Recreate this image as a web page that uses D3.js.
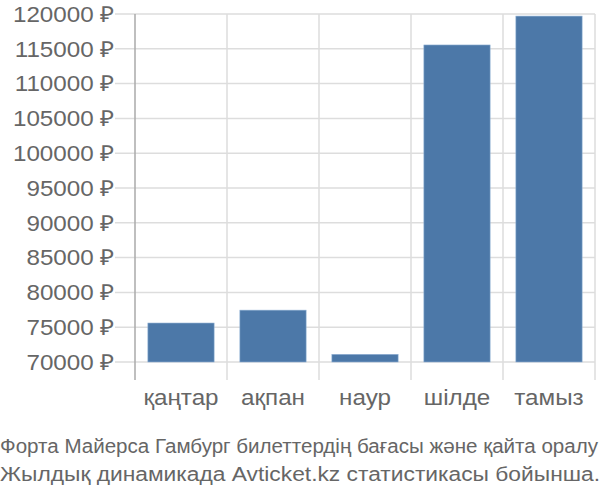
<!DOCTYPE html>
<html><head><meta charset="utf-8">
<script src="https://cdn.jsdelivr.net/npm/d3@7"></script>
<style>body{margin:0;background:#fff}svg{display:block}</style>
</head><body>
<svg id="c" width="600" height="500"></svg>
<script>
const categories = ["қаңтар","ақпан","наур","шілде","тамыз"];
const values = [75600, 77450, 71100, 115550, 119700];
const yTicks = [70000,75000,80000,85000,90000,95000,100000,105000,110000,115000,120000];
const titleLines = ["Форта Майерса Гамбург билеттердің бағасы және қайта оралу","Жылдық динамикада Avticket.kz статистикасы бойынша."];

(function(){
const svg = d3.select("#c");
const font = "'Liberation Sans', Arial, sans-serif";
const mLeft = 135, mRight = 595, mTop = 14, base = 362, axisBottom = 380;
const sx = 1.1;
const x = d3.scaleBand().domain(categories).range([mLeft, mRight]).paddingInner(0.28).paddingOuter(0.14);
const y = d3.scaleLinear().domain([70000,120000]).range([base, mTop]);

svg.append("g").selectAll("line").data(yTicks).join("line")
  .attr("x1", 115).attr("x2", mRight).attr("y1", d=>y(d)).attr("y2", d=>y(d))
  .attr("stroke", "#ddd").attr("stroke-width", 1.5);
const vlines = d3.range(categories.length+1).map(i => mLeft + i*(mRight-mLeft)/categories.length);
svg.append("g").selectAll("line").data(vlines.slice(1)).join("line")
  .attr("x1", d=>d).attr("x2", d=>d).attr("y1", mTop).attr("y2", axisBottom)
  .attr("stroke", "#ddd").attr("stroke-width", 1.5);
svg.append("line").attr("x1", mLeft).attr("x2", mLeft).attr("y1", mTop).attr("y2", axisBottom)
  .attr("stroke", "#aaa").attr("stroke-width", 1.5);

svg.append("g").selectAll("rect").data(values).join("rect")
  .attr("x", (d,i)=>x(categories[i])).attr("width", x.bandwidth())
  .attr("y", d=>y(d)).attr("height", d=>base - y(d))
  .attr("fill", "#4c78a8").attr("stroke", "#8fb0d4").attr("stroke-width", 0.6);

svg.append("g").selectAll("text").data(yTicks).join("text")
  .attr("transform", d => `translate(114,${y(d)}) scale(${sx},1)`)
  .attr("dy", "0.35em")
  .attr("text-anchor", "end").attr("font-family", font).attr("font-size", 22)
  .attr("fill", "#666").text(d => d + " ₽");

svg.append("g").selectAll("text").data(categories).join("text")
  .attr("transform", d => `translate(${x(d)+x.bandwidth()/2},405) scale(${sx},1)`)
  .attr("text-anchor", "middle").attr("font-family", font).attr("font-size", 22)
  .attr("fill", "#666").text(d=>d);

const tSizes = [19.5, 20], tLens = [598, 600];
svg.append("g").selectAll("text").data(titleLines).join("text")
  .attr("x", 0).attr("y", (d,i)=>453 + i*28)
  .attr("font-family", font).attr("font-size", (d,i)=>tSizes[i])
  .attr("textLength", (d,i)=>tLens[i]).attr("lengthAdjust", "spacingAndGlyphs")
  .attr("fill", "#666").text(d=>d);
})();
</script>
</body></html>
